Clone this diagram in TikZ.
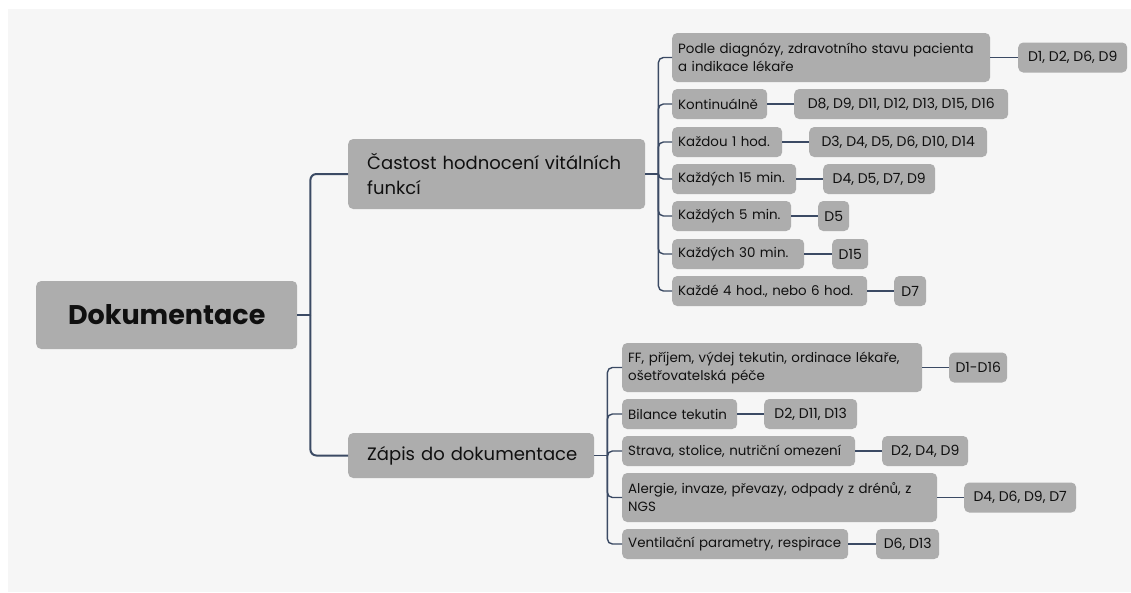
\documentclass[tikz,border=0pt]{standalone}
\usepackage{fontspec}
\setmainfont{Poppins}
\definecolor{bgc}{HTML}{F6F6F6}
\definecolor{boxgray}{HTML}{ADADAD}
\definecolor{lc}{HTML}{3B4A64}
\definecolor{txt}{HTML}{101010}
\tikzset{
  box/.style={fill=boxgray, rounded corners=5pt, text=txt, font=\fontsize{13.4}{18}\selectfont, inner xsep=6pt, inner ysep=0pt, anchor=west},
  kid/.style={box, align=left, minimum height=30pt},
  leaf/.style={box, minimum height=30pt, align=center, font=\fontsize{14}{18}\selectfont},
  lvlone/.style={box, inner xsep=19pt, align=left, font=\fontsize{18}{25}\selectfont},
  conn/.style={draw=lc, line width=1.4pt},
  trunk/.style={draw=lc, line width=2pt},
}
\begin{document}
\begin{tikzpicture}[x=1pt,y=-1pt]
\useasboundingbox (0,0) rectangle (1131,592);
\fill[bgc] (8,9) rectangle (1131,592);

\node[box, minimum width=261pt, minimum height=68pt, align=center, font=\bfseries\fontsize{27}{32}\selectfont] (root) at (36,315) {Dokumentace};

\node[lvlone, text width=259pt, minimum height=70pt] (a) at (348,174) {\mbox{Častost hodnocení vitálních}\\funkcí};
\node[lvlone, text width=208pt, minimum height=45pt] (b) at (348,455.5) {\mbox{Zápis do dokumentace}};

% children of a
\node[kid, text width=306pt, minimum height=49pt] (c1) at (672,57.5) {\mbox{Podle diagnózy, zdravotního stavu pacienta}\\a indikace lékaře};
\node[kid, text width=83pt] (c2) at (672,104) {\mbox{Kontinuálně}};
\node[kid, text width=98pt] (c3) at (672,142) {\mbox{Každou 1 hod.}};
\node[kid, text width=112pt] (c4) at (672,179) {\mbox{Každých 15 min.}};
\node[kid, text width=107pt] (c5) at (672,216) {\mbox{Každých 5 min.}};
\node[kid, text width=120pt] (c6) at (672,254) {\mbox{Každých 30 min.}};
\node[kid, text width=183pt] (c7) at (672,291) {\mbox{Každé 4 hod., nebo 6 hod.}};

\node[leaf, minimum width=109pt] (l1) at (1018,57.5) {D1, D2, D6, D9};
\node[leaf, minimum width=214pt] (l2) at (794,104) {D8, D9, D11, D12, D13, D15, D16};
\node[leaf, minimum width=178pt] (l3) at (809,142) {D3, D4, D5, D6, D10, D14};
\node[leaf, minimum width=112pt] (l4) at (823,179) {D4, D5, D7, D9};
\node[leaf, minimum width=31pt] (l5) at (818,216) {D5};
\node[leaf, minimum width=36pt] (l6) at (832,254) {D15};
\node[leaf, minimum width=32pt] (l7) at (894,291) {D7};

% children of b
\node[kid, text width=288pt, minimum height=49pt] (z1) at (622,367.5) {\mbox{FF, příjem, výdej tekutin, ordinace lékaře,}\\ošetřovatelská péče};
\node[kid, text width=103pt] (z2) at (622,414) {\mbox{Bilance tekutin}};
\node[kid, text width=221pt] (z3) at (622,451) {\mbox{Strava, stolice, nutriční omezení}};
\node[kid, text width=303pt, minimum height=49pt] (z4) at (622,497.5) {\mbox{Alergie, invaze, převazy, odpady z drénů, z}\\NGS};
\node[kid, text width=214pt] (z5) at (622,544) {\mbox{Ventilační parametry, respirace}};

\node[leaf, minimum width=58pt] (m1) at (949,367.5) {D1-D16};
\node[leaf, minimum width=93pt] (m2) at (764,414) {D2, D11, D13};
\node[leaf, minimum width=86pt] (m3) at (882,451) {D2, D4, D9};
\node[leaf, minimum width=112pt] (m4) at (964,497.5) {D4, D6, D9, D7};
\node[leaf, minimum width=63pt] (m5) at (876,544) {D6, D13};

% root trunk
\path (root.east) ++(13,0) coordinate (j0);
\draw[trunk] (root.east) -- (j0);
\draw[trunk, rounded corners=6pt] (j0) |- (a.west);
\draw[trunk, rounded corners=6pt] (j0) |- (b.west);

% branch a
\path (a.east) ++(13,0) coordinate (ja);
\draw[conn] (a.east) -- (ja);
\foreach \c in {c1,c2,c3,c4,c5,c6,c7}
  \draw[conn, rounded corners=5pt] (ja) |- (\c.west);

% branch b
\path (b.east) ++(13,0) coordinate (jb);
\draw[conn] (b.east) -- (jb);
\foreach \c in {z1,z2,z3,z4,z5}
  \draw[conn, rounded corners=5pt] (jb) |- (\c.west);

% leaves
\foreach \c/\l in {c1/l1,c2/l2,c3/l3,c4/l4,c5/l5,c6/l6,c7/l7,z1/m1,z2/m2,z3/m3,z4/m4,z5/m5}
  \draw[conn] (\c.east) -- (\l.west);
\end{tikzpicture}
\end{document}
